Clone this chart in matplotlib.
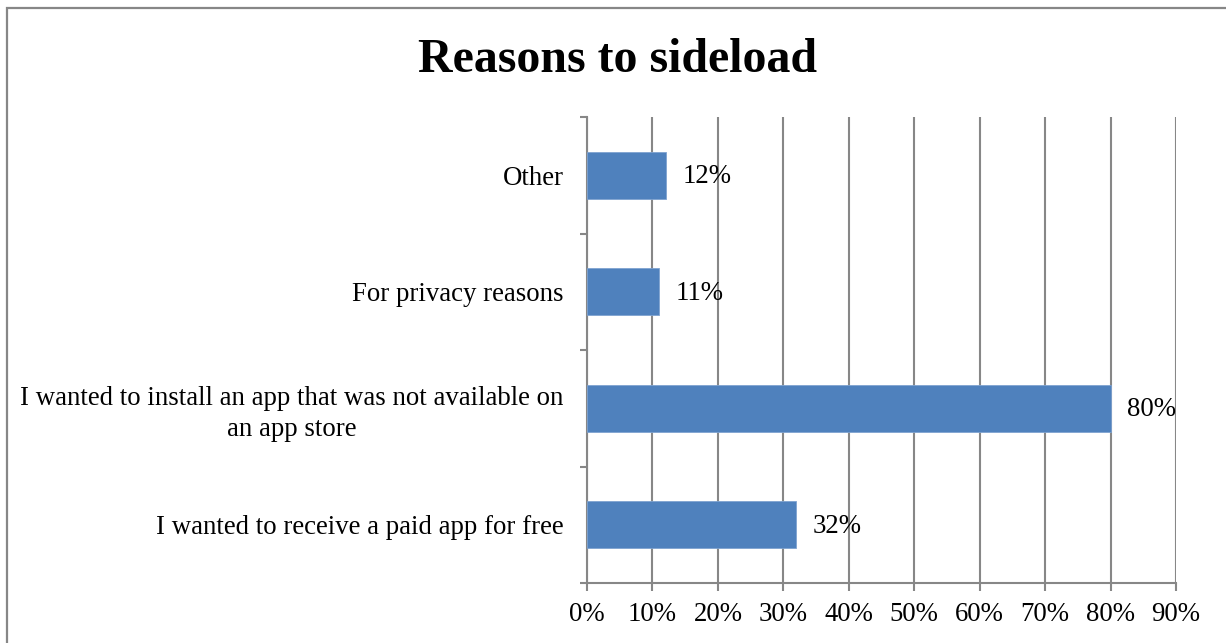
import matplotlib
matplotlib.use("Agg")
import matplotlib.pyplot as plt
from matplotlib.patches import Rectangle
from matplotlib.ticker import FixedLocator, FuncFormatter

# Survey responses, listed bottom to top
reasons = [
    "I wanted to receive a paid app for free",
    "I wanted to install an app that was not available on\nan app store",
    "For privacy reasons",
    "Other",
]
shares = [32, 80, 11, 12]
x_ticks = [0, 10, 20, 30, 40, 50, 60, 70, 80, 90]

plt.rcParams["font.family"] = ["Liberation Serif", "DejaVu Serif"]

W, H, DPI = 1226, 643, 100
fig = plt.figure(figsize=(W / DPI, H / DPI), dpi=DPI)
fig.patch.set_facecolor("white")

# Chart frame
frame = Rectangle((6.5 / W, -0.05), 1.2, 1 - 7.5 / H + 0.05, transform=fig.transFigure,
                  fill=False, edgecolor="#878787", linewidth=1.6, zorder=0)
fig.add_artist(frame)

ax = fig.add_axes([587 / W, 1 - 583 / H, (1176 - 587) / W, (583 - 117) / H])

grid_color = "#878787"
fs = 19.3
pos = list(range(len(reasons)))
ax.barh(pos, shares, height=0.4, color="#4F81BD", edgecolor="#7FA3D0",
        linewidth=0.6, zorder=3)

for p, v in zip(pos, shares):
    ax.annotate(f"{v}%", xy=(v, p), xytext=(12, -1), textcoords="offset points",
                va="center", ha="left", fontsize=fs, zorder=4)

ax.set_xlim(0, 90)
ax.set_ylim(-0.5, len(reasons) - 0.5)

ax.xaxis.set_major_locator(FixedLocator(x_ticks))
ax.xaxis.set_major_formatter(FuncFormatter(lambda v, _: f"{v:.0f}%"))
ax.grid(axis="x", color=grid_color, linewidth=1.5, zorder=1)
ax.tick_params(axis="x", length=6, width=1.5, color=grid_color, labelsize=fs, pad=8,
               direction="out")

# category boundaries carry the y ticks; labels sit at category centres
ax.yaxis.set_major_locator(FixedLocator([i - 0.5 for i in range(len(reasons) + 1)]))
ax.yaxis.set_major_formatter(FuncFormatter(lambda v, _: ""))
ax.tick_params(axis="y", which="major", length=5, width=1.5, color=grid_color)
ax.yaxis.set_minor_locator(FixedLocator(pos))
ax.set_yticklabels(reasons, minor=True, fontsize=fs)
ax.tick_params(axis="y", which="minor", length=0, pad=17)
for lbl in ax.get_yticklabels(minor=True):
    lbl.set_multialignment("center")
    lbl.set_linespacing(1.3)

for side in ("top", "right"):
    ax.spines[side].set_visible(False)
for side in ("left", "bottom"):
    ax.spines[side].set_color(grid_color)
    ax.spines[side].set_linewidth(1.5)
ax.set_axisbelow(True)

fig.text(617 / W, 1 - 72 / H, "Reasons to sideload", ha="center", va="baseline",
         fontsize=34.5, fontweight="bold")

fig.savefig("out.png", dpi=DPI, facecolor="white")
